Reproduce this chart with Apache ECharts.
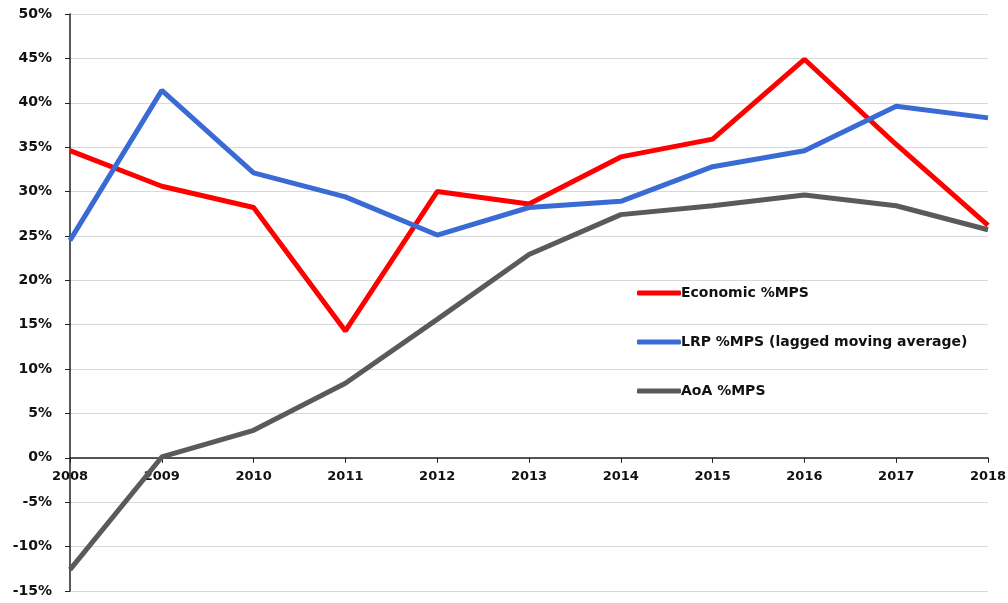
<!DOCTYPE html>
<html>
<head>
<meta charset="utf-8">
<script src="https://cdn.jsdelivr.net/npm/echarts@6/dist/echarts.min.js"></script>
<style>
  html, body { margin: 0; padding: 0; background: #fff; }
  #chart { width: 1008px; height: 603px; }
</style>
</head>
<body>
<div id="chart"></div>
<script>
const years = ['2008', '2009', '2010', '2011', '2012', '2013', '2014', '2015', '2016', '2017', '2018']
const economic = [34.6, 30.6, 28.2, 14.3, 30.0, 28.6, 33.9, 35.9, 44.9, 35.3, 26.2]
const lrp = [24.5, 41.4, 32.1, 29.4, 25.1, 28.2, 28.9, 32.8, 34.6, 39.6, 38.3]
const aoa = [-12.6, 0.1, 3.1, 8.4, 15.6, 22.9, 27.4, 28.4, 29.6, 28.4, 25.7]

const font = 'DejaVu Sans'
const yMin = -15
const yMax = 50
const gridTop = 14
const gridBottom = 12
const plotH = 603 - gridTop - gridBottom
// shift the x axis up so it sits on the 0% line, labels included
const zeroOffset = -plotH * (0 - yMin) / (yMax - yMin)

const chart = echarts.init(document.getElementById('chart'))

const lineSeries = (name, data, color) => ({
  name,
  type: 'line',
  data,
  symbol: 'none',
  lineStyle: { color, width: 5 },
  itemStyle: { color }
})

chart.setOption({
  animation: false,
  grid: { left: 70, right: 20, top: gridTop, bottom: gridBottom, containLabel: false, outerBoundsMode: 'none' },
  legend: {
    orient: 'vertical',
    left: 637,
    top: 286,
    padding: 0,
    itemGap: 35,
    itemWidth: 44,
    itemHeight: 5,
    icon: 'roundRect',
    textStyle: { fontFamily: font, fontWeight: 'bold', fontSize: 14, color: '#111', padding: [0, 0, 0, -5] },
    data: ['Economic %MPS', 'LRP %MPS (lagged moving average)', 'AoA %MPS']
  },
  xAxis: {
    type: 'category',
    data: years,
    boundaryGap: false,
    position: 'bottom',
    offset: zeroOffset,
    axisLine: { onZero: false, lineStyle: { color: '#222', width: 1.5 } },
    axisTick: { show: true, alignWithLabel: true, length: 5, lineStyle: { color: '#222' } },
    axisLabel: { fontFamily: font, fontWeight: 'bold', fontSize: 13, color: '#111', margin: 12 },
    splitLine: { show: false }
  },
  yAxis: {
    type: 'value',
    min: yMin,
    max: yMax,
    interval: 5,
    axisLine: { show: true, lineStyle: { color: '#222', width: 1.5 } },
    axisTick: { show: true, length: 5, lineStyle: { color: '#222' } },
    axisLabel: { formatter: '{value}%', fontFamily: font, fontWeight: 'bold', fontSize: 14, color: '#111', margin: 18 },
    splitLine: { show: true, lineStyle: { color: '#d9d9d9', width: 1 } }
  },
  series: [
    lineSeries('Economic %MPS', economic, '#ff0000'),
    lineSeries('LRP %MPS (lagged moving average)', lrp, '#3a6bd4'),
    lineSeries('AoA %MPS', aoa, '#5a5a5a')
  ]
})
</script>
</body>
</html>
